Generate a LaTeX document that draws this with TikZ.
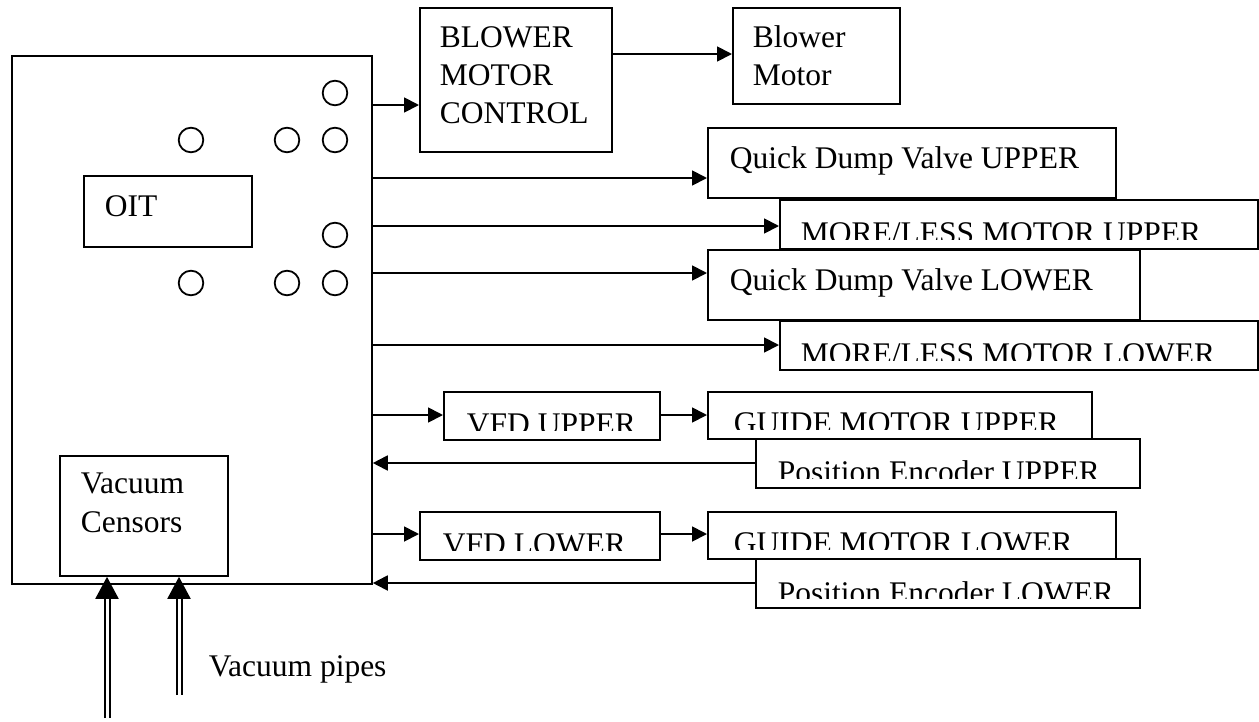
\documentclass[tikz,border=0pt]{standalone}
\usepackage{fontspec}
\setmainfont{Liberation Serif}
\usetikzlibrary{arrows.meta}
\begin{document}
\begin{tikzpicture}[x=1pt,y=-1pt,line width=1.8pt,
  box/.style={draw,fill=white,inner sep=0pt,anchor=north west},
  lbl/.style={anchor=base west,inner sep=0pt,font=\fontsize{31.5}{37.5}\selectfont},
  arr/.style={-{Triangle[length=15pt,width=15pt]}},
  pipe/.style={double,double distance=3pt,line width=2pt,-{Triangle[length=22pt,width=23pt]}},
  port/.style={draw,circle,minimum size=24.6pt,inner sep=0pt}]
\useasboundingbox (0,0) rectangle (1259,721);
% main controller box
\node[box,minimum width=360pt,minimum height=528pt] (main) at (11,55) {};
\node[box,minimum width=168pt,minimum height=71pt] (oit) at (83,175) {};
\node[lbl] (oitT) at (104,216) {OIT};
\node[box,minimum width=168pt,minimum height=120pt] (vac) at (59,455) {};
\node[lbl] (vacT1) at (80,493) {Vacuum};
\node[lbl] (vacT2) at (80,532) {Censors};
% ports
\node[port] (c1) at (335,93) {};
\node[port] (c2) at (191,140) {};
\node[port] (c3) at (287,140) {};
\node[port] (c4) at (335,140) {};
\node[port] (c5) at (335,235) {};
\node[port] (c6) at (191,283) {};
\node[port] (c7) at (287,283) {};
\node[port] (c8) at (335,283) {};
% blower
\node[box,minimum width=192pt,minimum height=144pt] (bmc) at (419,7) {};
\node[lbl] (bmcT1) at (439,47) {BLOWER};
\node[lbl] (bmcT2) at (439,85) {MOTOR};
\node[lbl] (bmcT3) at (439,123) {CONTROL};
\node[box,minimum width=167pt,minimum height=96pt] (bm) at (732,7) {};
\node[lbl] (bmT1) at (752,47) {Blower};
\node[lbl] (bmT2) at (752,85) {Motor};
% valves and motors
\node[box,minimum width=408pt,minimum height=70pt] (qdvu) at (707,127) {};
\node[lbl] (qdvuT) at (729,168) {Quick Dump Valve UPPER};
\node[box,minimum width=478pt,minimum height=49pt] (mlu) at (779,199) {};
\begin{scope}\clip (mlu.north west) rectangle ([yshift=10pt]mlu.south east);
\node[lbl] (mluT) at (800,243) {MORE/LESS MOTOR UPPER};\end{scope}
\node[box,minimum width=432pt,minimum height=70pt] (qdvl) at (707,249) {};
\node[lbl] (qdvlT) at (729,290) {Quick Dump Valve LOWER};
\node[box,minimum width=478pt,minimum height=49pt] (mll) at (779,320) {};
\begin{scope}\clip (mll.north west) rectangle ([yshift=10pt]mll.south east);
\node[lbl] (mllT) at (800,364) {MORE/LESS MOTOR LOWER};\end{scope}
% upper guide
\node[box,minimum width=216pt,minimum height=48pt] (vfdu) at (443,391) {};
\begin{scope}\clip (vfdu.north west) rectangle ([yshift=10pt]vfdu.south east);
\node[lbl] (vfduT) at (466,434) {VFD UPPER};\end{scope}
\node[box,minimum width=384pt,minimum height=47pt] (gmu) at (707,391) {};
\begin{scope}\clip (gmu.north west) rectangle ([yshift=10pt]gmu.south east);
\node[lbl] (gmuT) at (733,433) {GUIDE MOTOR UPPER};\end{scope}
\node[box,minimum width=384pt,minimum height=49pt] (peu) at (755,438) {};
\begin{scope}\clip (peu.north west) rectangle ([yshift=10pt]peu.south east);
\node[lbl] (peuT) at (777,482) {Position Encoder UPPER};\end{scope}
% lower guide
\node[box,minimum width=240pt,minimum height=48pt] (vfdl) at (419,511) {};
\begin{scope}\clip (vfdl.north west) rectangle ([yshift=10pt]vfdl.south east);
\node[lbl] (vfdlT) at (442,554) {VFD LOWER};\end{scope}
\node[box,minimum width=408pt,minimum height=47pt] (gml) at (707,511) {};
\begin{scope}\clip (gml.north west) rectangle ([yshift=10pt]gml.south east);
\node[lbl] (gmlT) at (733,553) {GUIDE MOTOR LOWER};\end{scope}
\node[box,minimum width=384pt,minimum height=49pt] (pel) at (755,558) {};
\begin{scope}\clip (pel.north west) rectangle ([yshift=10pt]pel.south east);
\node[lbl] (pelT) at (777,603) {Position Encoder LOWER};\end{scope}
% connector anchor points
\coordinate (a1) at (371,105);
\coordinate (b1) at (611,54);
\coordinate (a2) at (371,178);
\coordinate (a3) at (371,226);
\coordinate (a4) at (371,273);
\coordinate (a5) at (371,345);
\coordinate (a6) at (371,415);
\coordinate (a7) at (659,415);
\coordinate (a8) at (755,463);
\coordinate (a9) at (371,534);
\coordinate (a10) at (659,534);
\coordinate (a11) at (755,583);
\draw[arr] (a1) -- (a1 -| bmc.west);
\draw[arr] (b1) -- (b1 -| bm.west);
\draw[arr] (a2) -- (a2 -| qdvu.west);
\draw[arr] (a3) -- (a3 -| mlu.west);
\draw[arr] (a4) -- (a4 -| qdvl.west);
\draw[arr] (a5) -- (a5 -| mll.west);
\draw[arr] (a6) -- (a6 -| vfdu.west);
\draw[arr] (a7) -- (a7 -| gmu.west);
\draw[arr] (a8) -- (a8 -| main.east);
\draw[arr] (a9) -- (a9 -| vfdl.west);
\draw[arr] (a10) -- (a10 -| gml.west);
\draw[arr] (a11) -- (a11 -| main.east);
% vacuum pipes
\coordinate (p1) at (107,718);
\coordinate (p2) at (179,695);
\draw[pipe] (p1) -- (p1 |- vac.south);
\draw[pipe] (p2) -- (p2 |- vac.south);
\node[lbl] (pipesT) at (208,676) {Vacuum pipes};
\end{tikzpicture}
\end{document}
